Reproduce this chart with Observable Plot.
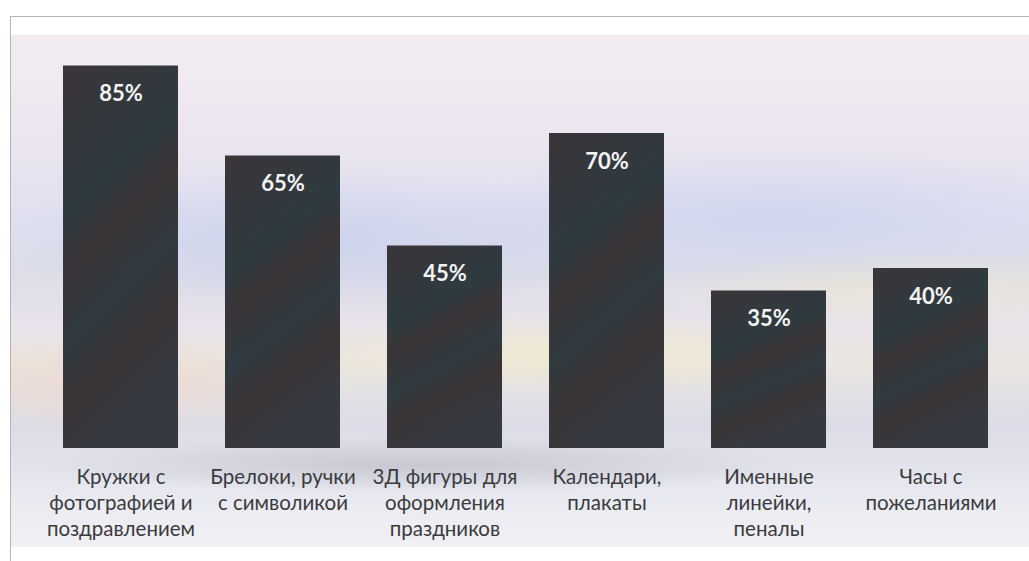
<!DOCTYPE html>
<html>
<head>
<meta charset="utf-8">
<script src="https://cdn.jsdelivr.net/npm/d3@7"></script>
<script src="https://cdn.jsdelivr.net/npm/@observablehq/plot@0.6"></script>
<style>
  html, body { margin: 0; padding: 0; background: #fff; }
  #wrap { position: relative; width: 1029px; height: 561px; overflow: hidden; }
  #frame { position: absolute; left: 10px; top: 16px; width: 1030px; height: 560px;
    border-left: 1.5px solid #b5b5b5; border-top: 1.5px solid #b5b5b5; }
  #photo { position: absolute; left: 11px; top: 35px; width: 1018px; height: 512px;
    background:
      radial-gradient(ellipse 380px 28px at 40% 84%, rgba(150,150,165,0.35), rgba(150,150,165,0)),
      radial-gradient(ellipse 300px 40px at 55% 62%, rgba(240,234,205,0.8), rgba(240,234,205,0)),
      radial-gradient(ellipse 260px 40px at 88% 50%, rgba(238,232,208,0.7), rgba(238,232,208,0)),
      radial-gradient(ellipse 240px 50px at 10% 68%, rgba(238,216,205,0.8), rgba(238,216,205,0)),
      radial-gradient(ellipse 320px 70px at 30% 40%, rgba(196,206,236,0.7), rgba(196,206,236,0)),
      radial-gradient(ellipse 340px 70px at 75% 36%, rgba(200,210,238,0.7), rgba(200,210,238,0)),
      linear-gradient(180deg, #f2ecf2 0%, #ede6f0 18%, #e0e0f0 35%, #dcdde8 46%, #e8e2ec 56%, #ebe6e0 64%, #dcdce8 76%, #e2e2ec 84%, #ebebf2 92%, #f1f0f4 100%);
  }
  #chart { position: absolute; left: 0; top: 0; }
</style>
</head>
<body>
<div id="wrap">
  <div id="frame"></div>
  <div id="photo"></div>
  <div id="chart"></div>
</div>
<script>
const categories = [
  "Кружки с\nфотографией и\nпоздравлением",
  "Брелоки, ручки\nс символикой",
  "3Д фигуры для\nоформления\nпраздников",
  "Календари,\nплакаты",
  "Именные\nлинейки,\nпеналы",
  "Часы с\nпожеланиями"
];
const values = [85, 65, 45, 70, 35, 40];
const valueLabels = ["85%", "65%", "45%", "70%", "35%", "40%"];

const data = categories.map((c, i) => ({category: c, value: values[i], label: valueLabels[i]}));

const gradientDefs = () => {
  const svg = d3.create("svg:g");
  const grad = svg.append("defs").append("linearGradient")
    .attr("id", "barfill").attr("x1", 0).attr("y1", 0).attr("x2", 0.3).attr("y2", 1);
  [[0, "#3b3539"], [0.2, "#34383d"], [0.38, "#2e3b40"], [0.5, "#3b3437"], [0.68, "#303b40"], [0.82, "#3a3437"], [1, "#363a40"]]
    .forEach(([o, c]) => grad.append("stop").attr("offset", o).attr("stop-color", c));
  return svg.node();
};

const chart = Plot.plot({
  width: 1029,
  height: 561,
  marginTop: 43,
  marginBottom: 113,
  marginLeft: 30,
  marginRight: 7,
  style: {background: "transparent", fontFamily: "Lato, 'Open Sans', sans-serif"},
  x: {domain: categories, paddingInner: 0.29, paddingOuter: 0.2, label: null},
  y: {domain: [0, 90], axis: null},
  marks: [
    gradientDefs,
    Plot.barY(data, {x: "category", y: "value", fill: "url(#barfill)"}),
    Plot.text(data, {x: "category", y: "value", text: "label", dy: 28, fill: "#f4f4f4",
      fontSize: 22, fontWeight: "bold"}),
    Plot.axisX({tickSize: 0, tickPadding: 17, fontSize: 20.5, lineHeight: 1.27,
      fill: "#3a3b3d", label: null})
  ]
});
document.getElementById("chart").appendChild(chart);
</script>
</body>
</html>
